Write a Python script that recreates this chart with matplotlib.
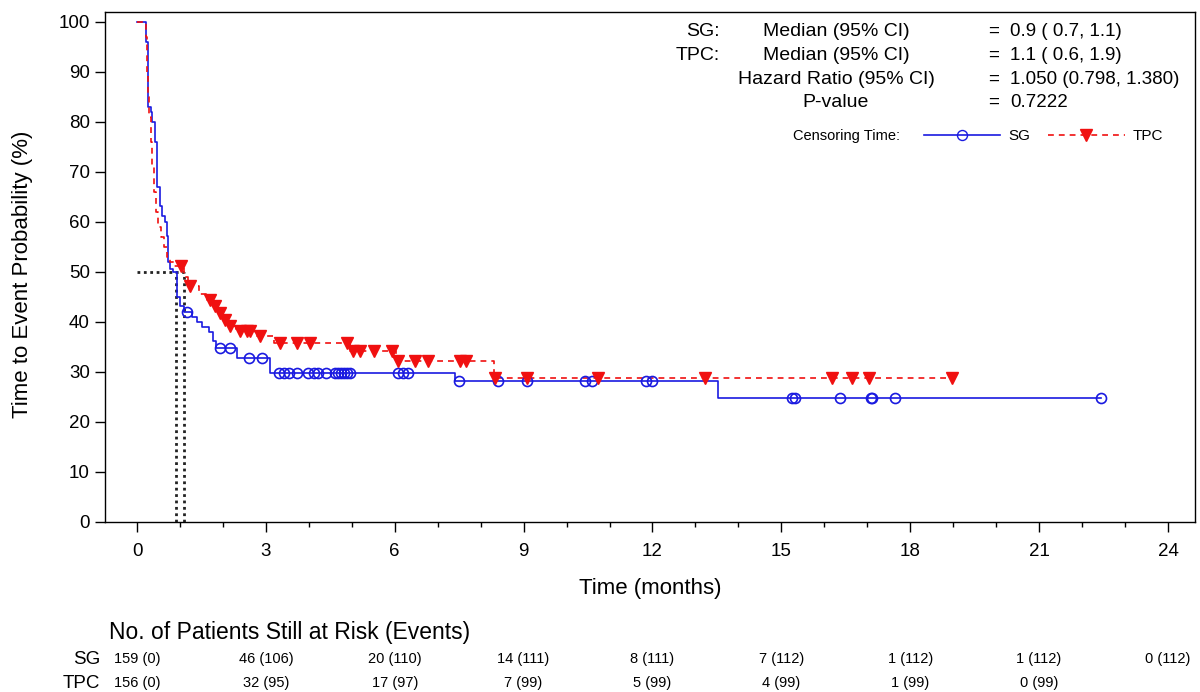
import numpy as np
import matplotlib
matplotlib.use("Agg")
import matplotlib.pyplot as plt
from matplotlib.lines import Line2D
from matplotlib.ticker import FixedLocator
import matplotlib.transforms as mtransforms

plt.rcParams['font.family'] = ['Liberation Sans', 'DejaVu Sans']

# ---- KM steps (months, % after the drop) ----
sg_step_t = [0.22, 0.25, 0.32, 0.36, 0.43, 0.46, 0.53, 0.59, 0.65, 0.69, 0.73, 0.77,
             0.84, 0.93, 1.00, 1.10, 1.28, 1.40, 1.52, 1.68, 1.76, 1.84, 2.32, 3.10,
             7.40, 13.52]
sg_step_s = [96.0, 83.0, 82.0, 80.0, 76.0, 67.0, 63.3, 61.3, 60.0, 57.3, 52.0, 50.7,
             50.0, 45.0, 43.2, 42.1, 41.0, 40.0, 39.0, 38.0, 36.3, 34.9, 32.9, 29.9,
             28.2, 24.8]
sg_censor = [1.17, 1.93, 2.16, 2.61, 2.92, 3.30, 3.42, 3.55, 3.72, 3.99, 4.13, 4.22,
             4.40, 4.60, 4.68, 4.76, 4.82, 4.88, 4.96, 6.08, 6.20, 6.32, 7.50, 8.40,
             9.07, 10.43, 10.59, 11.84, 11.98, 15.25, 15.32, 16.36, 17.08, 17.12,
             17.64, 22.44]
sg_end = 22.44

tpc_step_t = [0.20, 0.24, 0.26, 0.29, 0.32, 0.35, 0.39, 0.44, 0.50, 0.57, 0.63, 0.70,
              0.76, 0.85, 1.10, 1.18, 1.45, 1.62, 1.78, 1.88, 2.00, 2.12, 2.30, 2.75,
              3.20, 4.95, 6.02, 8.30]
tpc_step_s = [97.0, 90.0, 85.0, 81.0, 76.0, 71.0, 66.0, 62.0, 59.0, 57.0, 55.0, 53.0,
              52.0, 51.3, 49.0, 47.2, 45.6, 44.5, 43.3, 41.9, 40.4, 39.3, 38.3, 37.2,
              35.9, 34.3, 32.3, 28.8]
tpc_censor = [1.02, 1.23, 1.70, 1.82, 1.93, 2.05, 2.16, 2.40, 2.55, 2.63, 2.86, 3.32,
              3.72, 4.03, 4.88, 5.04, 5.19, 5.52, 5.93, 6.08, 6.47, 6.78, 7.52, 7.67,
              8.33, 9.07, 10.73, 13.22, 16.19, 16.64, 17.03, 18.97]
tpc_end = 18.97

sg_median = 0.9
tpc_median = 1.1

# stats box
stat_group = ['SG:', 'TPC:', '', '']
stat_desc = ['Median (95% CI)', 'Median (95% CI)', 'Hazard Ratio (95% CI)', 'P-value']
stat_vals = ['0.9 ( 0.7, 1.1)', '1.1 ( 0.6, 1.9)', '1.050 (0.798, 1.380)', '0.7222']

# risk table
risk_times = [0, 3, 6, 9, 12, 15, 18, 21, 24]
sg_risk = ['159 (0)', '46 (106)', '20 (110)', '14 (111)', '8 (111)', '7 (112)',
           '1 (112)', '1 (112)', '0 (112)']
tpc_risk = ['156 (0)', '32 (95)', '17 (97)', '7 (99)', '5 (99)', '4 (99)',
            '1 (99)', '0 (99)']

blue = '#1a1ae0'
red = '#f01010'


def km_xy(times, surv, t_end):
    x = np.concatenate([[0.0], times, [t_end]])
    y = np.concatenate([[100.0], surv, [surv[-1]]])
    return x, y


def surv_at(t, times, surv):
    idx = np.searchsorted(times, t, side='right') - 1
    return np.where(idx >= 0, np.asarray(surv)[np.clip(idx, 0, None)], 100.0)


W, H = 1200, 692
fig = plt.figure(figsize=(W / 100, H / 100), dpi=100)
ax = fig.add_axes([105 / W, 1 - 522 / H, 1090 / W, 510 / H])

# median reference lines
ax.plot([0, tpc_median], [50, 50], color='#222222', lw=2, ls=(0, (1, 1.3)))
ax.plot([sg_median, sg_median], [0, 50], color='#222222', lw=2, ls=(0, (1, 1.3)))
ax.plot([tpc_median, tpc_median], [0, 50], color='#222222', lw=2, ls=(0, (1, 1.3)))

x, y = km_xy(sg_step_t, sg_step_s, sg_end)
ax.step(x, y, where='post', color=blue, lw=1.2)
x, y = km_xy(tpc_step_t, tpc_step_s, tpc_end)
ax.step(x, y, where='post', color=red, lw=1.2, ls=(0, (3.5, 3)))

ax.plot(sg_censor, surv_at(sg_censor, sg_step_t, sg_step_s), ls='none', marker='o',
        ms=7.2, mfc='none', mec=blue, mew=1.2)
ax.plot(tpc_censor, surv_at(tpc_censor, tpc_step_t, tpc_step_s), ls='none', marker='v',
        ms=9, color=red, mec=red)

ax.set_xlim(-0.745, 24.63)
ax.set_ylim(0, 102)
ax.xaxis.set_major_locator(FixedLocator(risk_times))
ax.xaxis.set_minor_locator(FixedLocator(range(0, 25)))
ax.set_yticks(range(0, 101, 10))
ax.tick_params(axis='both', which='major', direction='out', length=7, width=1,
               labelsize=13.5, pad=4)
ax.tick_params(axis='x', which='major', pad=8)
ax.tick_params(axis='x', which='minor', direction='out', length=3.5, width=1)
for sp in ax.spines.values():
    sp.set_linewidth(1)

ax.set_xlabel('Time (months)', fontsize=16)
ax.set_ylabel('Time to Event Probability (%)', fontsize=16)
ax.xaxis.set_label_coords(0.5, -0.11)
ax.yaxis.set_label_coords(-0.066, 0.485)

# stats text in the upper right
row_y = [31, 55, 79, 102.5]
for i in range(4):
    yy = 1 - row_y[i] / H
    fig.text(720 / W, yy, stat_group[i], ha='right', va='center', fontsize=14)
    fig.text(836 / W, yy, stat_desc[i], ha='center', va='center', fontsize=14)
    fig.text(994 / W, yy, '=', ha='center', va='center', fontsize=13.5)
    fig.text(1010 / W, yy, stat_vals[i], ha='left', va='center', fontsize=13.5)

fig.text(900 / W, 1 - 136 / H, 'Censoring Time:', ha='right', va='center', fontsize=10.5)
handles = [Line2D([], [], color=blue, lw=1.2, marker='o', ms=7.2, mfc='none', mec=blue),
           Line2D([], [], color=red, lw=1.2, ls=(0, (3.5, 3)), marker='v', ms=9)]
fig.legend(handles, ['SG', 'TPC'], ncol=2, frameon=False, fontsize=11,
           loc='center left', bbox_to_anchor=(924 / W, 1 - 136 / H),
           handlelength=5.0, handletextpad=0.5, columnspacing=1.2,
           borderaxespad=0, borderpad=0)

# risk table
fig.text(109 / W, 1 - 633 / H, 'No. of Patients Still at Risk (Events)',
         ha='left', va='center', fontsize=16.5)
trans = mtransforms.blended_transform_factory(ax.transData, fig.transFigure)
fig.text(100 / W, 1 - 659 / H, 'SG', ha='right', va='center', fontsize=13.5)
fig.text(100 / W, 1 - 683 / H, 'TPC', ha='right', va='center', fontsize=13.5)
for t, lab in zip(risk_times, sg_risk):
    ax.text(t, 1 - 659 / H, lab, transform=trans, ha='center', va='center', fontsize=10.5)
for t, lab in zip(risk_times, tpc_risk):
    ax.text(t, 1 - 683 / H, lab, transform=trans, ha='center', va='center', fontsize=10.5)

fig.savefig('out.png', dpi=100)
